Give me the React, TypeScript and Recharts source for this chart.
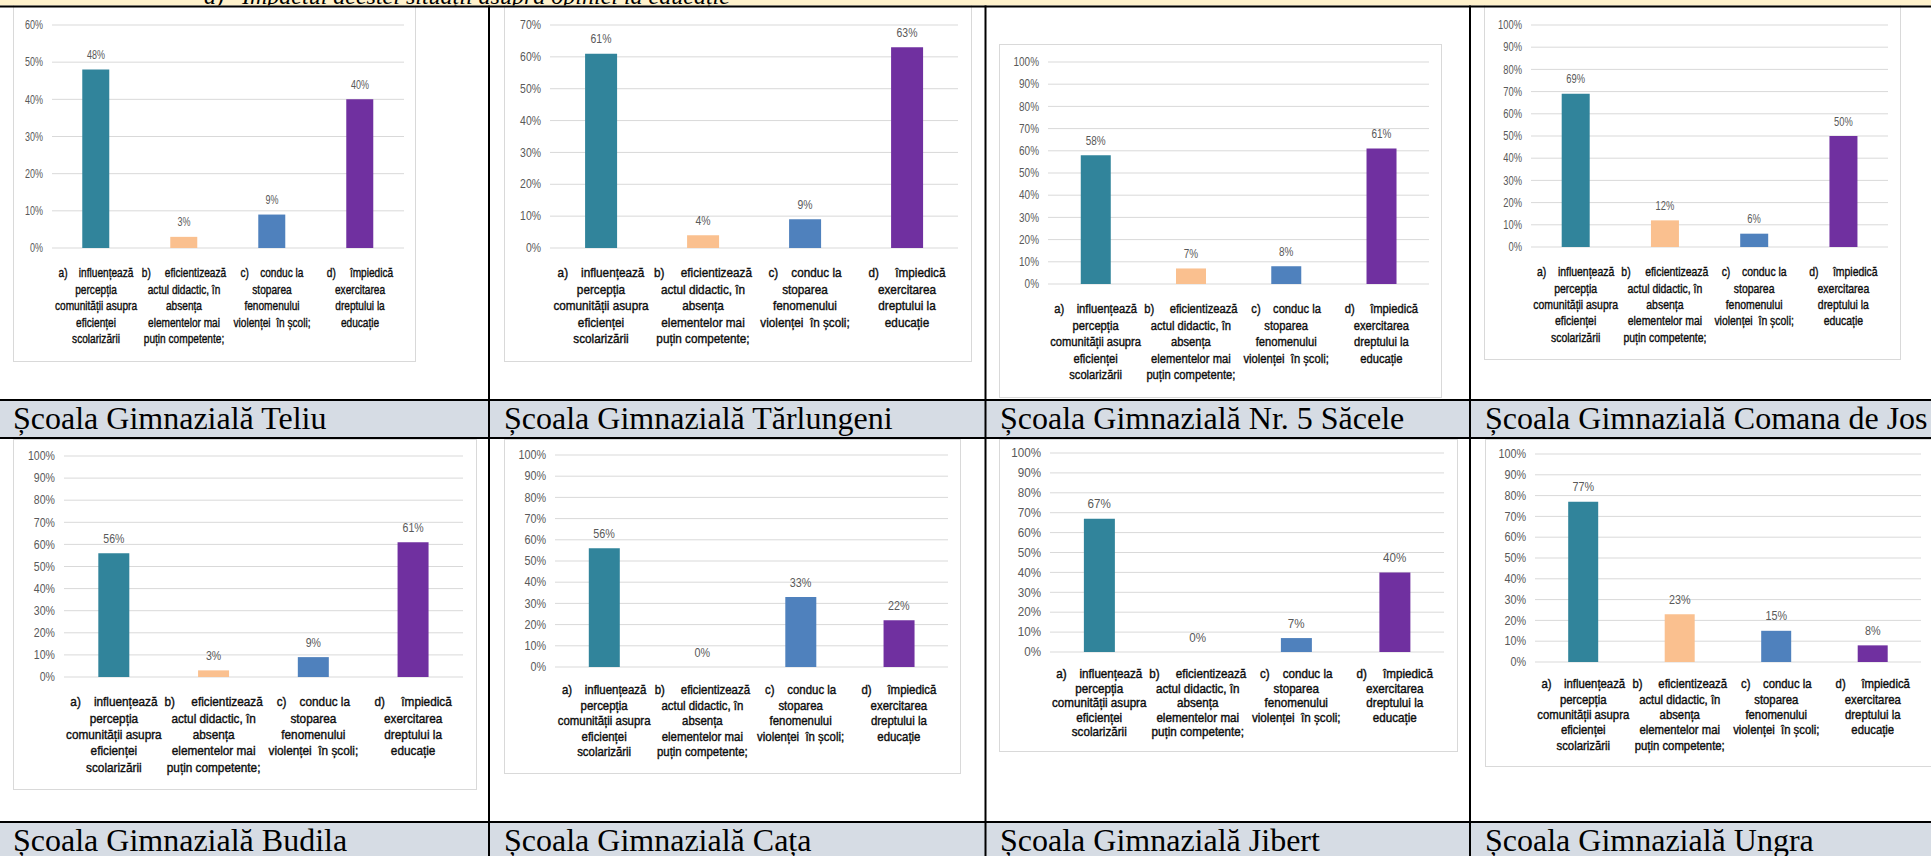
import React from "react";
import { ComposedChart, Bar, Line, XAxis, YAxis, CartesianGrid, LabelList, Cell } from "recharts";

// answer options (x axis), one array of wrapped lines per category
const categories = ["a", "b", "c", "d"];
const categoryLines = [
  ["a)    influențează", "percepția", "comunității asupra", "eficienței", "scolarizării"],
  ["b)     eficientizează", "actul didactic, în", "absența", "elementelor mai", "puțin competente;"],
  ["c)    conduc la", "stoparea", "fenomenului", "violenței  în școli;"],
  ["d)     împiedică", "exercitarea", "dreptului la", "educație"],
];

const schools = [
  "Școala Gimnazială Teliu",
  "Școala Gimnazială Tărlungeni",
  "Școala Gimnazială Nr. 5 Săcele",
  "Școala Gimnazială Comana de Jos",
  "Școala Gimnazială Budila",
  "Școala Gimnazială Cața",
  "Școala Gimnazială Jibert",
  "Școala Gimnazială Ungra",
];

// percentages per school, in category order a..d
const teliu = [48, 3, 9, 40];
const tarlungeni = [61, 4, 9, 63];
const sacele = [58, 7, 8, 61];
const comana = [69, 12, 6, 50];
const budila = [56, 3, 9, 61];
const cata = [56, 0, 33, 22];
const jibert = [67, 0, 7, 40];
const ungra = [77, 23, 15, 8];
const seriesBySchool = [teliu, tarlungeni, sacele, comana, budila, cata, jibert, ungra];

const ticks60 = [0, 10, 20, 30, 40, 50, 60];
const ticks70 = [0, 10, 20, 30, 40, 50, 60, 70];
const ticks100 = [0, 10, 20, 30, 40, 50, 60, 70, 80, 90, 100];
const tickSets = [ticks60, ticks70, ticks100, ticks100, ticks100, ticks100, ticks100, ticks100];

const headerText = "a)   Impactul acestei situații asupra opiniei la educație";

const barColors = ["#31849B", "#FAC08F", "#4F81BD", "#7030A0"];
// the charts were pasted squeezed sideways, so text is drawn with Arial metrics and scaled in x
const SANS = '"Liberation Sans", Arial, sans-serif';
const SERIF = '"Liberation Serif", "Times New Roman", serif';

// box = [x, y, w, h] of the chart frame, plot = [left, top(100%), right, bottom(0%)]
// sx = horizontal squeeze of the text, fs = font size, lh = label line step
const LAYOUT = [
  { box: [13, -10, 403, 372], plot: [52, 25, 404, 248], fs: 13.5, sx: 0.75, lh: 16.5, first: 25 },
  { box: [504, -10, 468, 372], plot: [550, 25, 958, 248], fs: 13.5, sx: 0.87, lh: 16.5, first: 25 },
  { box: [999, 44, 443, 354], plot: [1048, 62, 1429, 284], fs: 13.5, sx: 0.83, lh: 16.5, first: 25 },
  { box: [1484, -10, 417, 370], plot: [1531, 25, 1888, 247], fs: 13.4, sx: 0.78, lh: 16.3, first: 25 },
  { box: [13, 439, 464, 351], plot: [64, 456, 463, 677], fs: 13.4, sx: 0.88, lh: 16.3, first: 25 },
  { box: [504, 439, 457, 335], plot: [555, 455, 948, 667], fs: 12.7, sx: 0.9, lh: 15.5, first: 23 },
  { box: [999, 439, 459, 313], plot: [1050, 453, 1444, 652], fs: 12.0, sx: 0.97, lh: 14.6, first: 22 },
  { box: [1485, 439, 460, 328], plot: [1535, 454, 1921, 662], fs: 12.6, sx: 0.9, lh: 15.4, first: 22 },
];

const titlePos = [
  [13, 429], [504, 429], [1000, 429], [1485, 429],
  [13, 851], [504, 851], [1000, 851], [1485, 851],
];

function CategoryTick(props: any) {
  const { x, y, payload, cfg } = props;
  const idx = categories.indexOf(payload.value);
  const lines = categoryLines[idx] || [];
  return (
    <g transform={`translate(${x},${y}) scale(${cfg.sx},1)`}>
      <text
        textAnchor="middle"
        fontSize={cfg.fs}
        fontFamily={SANS}
        fill="#0d0d0d"
        stroke="#0d0d0d"
        strokeWidth={0.4}
        style={{ whiteSpace: "pre" }}
      >
        {lines.map((ln: string, i: number) => (
          <tspan key={i} x={0} y={cfg.first + i * cfg.lh + cfg.fs * 0.33}>
            {ln}
          </tspan>
        ))}
      </text>
    </g>
  );
}

function PercentTick(props: any) {
  const { x, y, payload, cfg } = props;
  return (
    <g transform={`translate(${x},${y}) scale(${cfg.sx},1)`}>
      <text x={0} y={0} dy="0.35em" textAnchor="end" fontSize={12} fontFamily={SANS} fill="#595959">
        {`${payload.value}%`}
      </text>
    </g>
  );
}

// value labels hang on an invisible line through the bar tops, so 0% gets one too
function makeValueLabel(cfg: any) {
  return (props: any) => {
    const vb = props.viewBox && props.viewBox.x !== undefined ? props.viewBox : props;
    const cx = Number(vb.x) + (Number(vb.width) || 0) / 2;
    const top = Number(vb.y);
    if (!isFinite(cx) || !isFinite(top)) return null;
    return (
      <g transform={`translate(${cx},${top - 10.5}) scale(${cfg.sx},1)`}>
        <text x={0} y={0} textAnchor="middle" fontSize={12} fontFamily={SANS} fill="#595959">
          {`${props.value}%`}
        </text>
      </g>
    );
  };
}

function SchoolChart({ idx }: { idx: number }) {
  const L = LAYOUT[idx];
  const [bx, by, bw, bh] = L.box;
  const [pl, pt, pr, pb] = L.plot;
  const values = seriesBySchool[idx];
  const ticks = tickSets[idx];
  const data = categories.map((c, i) => ({ cat: c, v: values[i] }));

  return (
    <div
      style={{
        position: "absolute",
        left: bx,
        top: by,
        width: bw,
        height: bh,
        border: "1px solid #d9d9d9",
        boxSizing: "border-box",
        background: "#ffffff",
      }}
    >
      <div style={{ position: "absolute", left: -1, top: -1 }}>
        <ComposedChart
          width={bw}
          height={bh}
          data={data}
          margin={{ top: pt - by, right: bx + bw - pr, bottom: 0, left: 0 }}
          barCategoryGap="34.4%"
        >
          <CartesianGrid vertical={false} stroke="#d9d9d9" />
          <XAxis
            dataKey="cat"
            height={by + bh - pb}
            axisLine={false}
            tickLine={false}
            tickSize={0}
            tickMargin={0}
            interval={0}
            tick={(p: any) => <CategoryTick {...p} cfg={L} />}
          />
          <YAxis
            width={pl - bx}
            domain={[0, ticks[ticks.length - 1]]}
            ticks={ticks}
            interval={0}
            axisLine={false}
            tickLine={false}
            tickSize={0}
            tickMargin={9}
            tick={(p: any) => <PercentTick {...p} cfg={L} />}
          />
          <Bar dataKey="v" isAnimationActive={false}>
            {data.map((d, i) => (
              <Cell key={`cell-${i}`} fill={barColors[i]} />
            ))}
          </Bar>
          <Line
            dataKey="v"
            stroke="none"
            dot={false}
            activeDot={false}
            legendType="none"
            isAnimationActive={false}
          >
            <LabelList dataKey="v" content={makeValueLabel(L)} />
          </Line>
        </ComposedChart>
      </div>
    </div>
  );
}

export default function App() {
  return (
    <div
      style={{
        position: "absolute",
        left: 0,
        top: 0,
        width: 1931,
        height: 856,
        overflow: "hidden",
        background: "#ffffff",
      }}
    >
      {schools.map((s, i) => (
        <SchoolChart key={s} idx={i} />
      ))}

      {/* table frame, header strip and school names */}
      <svg width={1931} height={856} style={{ position: "absolute", left: 0, top: 0, pointerEvents: "none" }}>
        <defs>
          <clipPath id="hdr">
            <rect x={0} y={0} width={1931} height={5.5} />
          </clipPath>
        </defs>
        <rect x={0} y={0} width={1931} height={5.5} fill="#FFF2CC" />
        <text
          x={204}
          y={3.5}
          clipPath="url(#hdr)"
          fontFamily={SERIF}
          fontStyle="italic"
          fontSize={24}
          fill="#000"
          style={{ whiteSpace: "pre" }}
        >
          {headerText}
        </text>

        <rect x={0} y={401} width={1931} height={36} fill="#D6DCE4" />
        <rect x={0} y={823} width={1931} height={40} fill="#D6DCE4" />

        <rect x={0} y={5.5} width={1931} height={2} fill="#000" />
        <rect x={0} y={399} width={1931} height={2} fill="#000" />
        <rect x={0} y={437} width={1931} height={2} fill="#000" />
        <rect x={0} y={821} width={1931} height={2} fill="#000" />
        <rect x={488} y={5.5} width={2} height={851} fill="#000" />
        <rect x={984.5} y={5.5} width={2} height={851} fill="#000" />
        <rect x={1469} y={5.5} width={2} height={851} fill="#000" />

        {schools.map((s, i) => (
          <text key={s} x={titlePos[i][0]} y={titlePos[i][1]} fontFamily={SERIF} fontSize={32} fill="#000">
            {s}
          </text>
        ))}
      </svg>
    </div>
  );
}
